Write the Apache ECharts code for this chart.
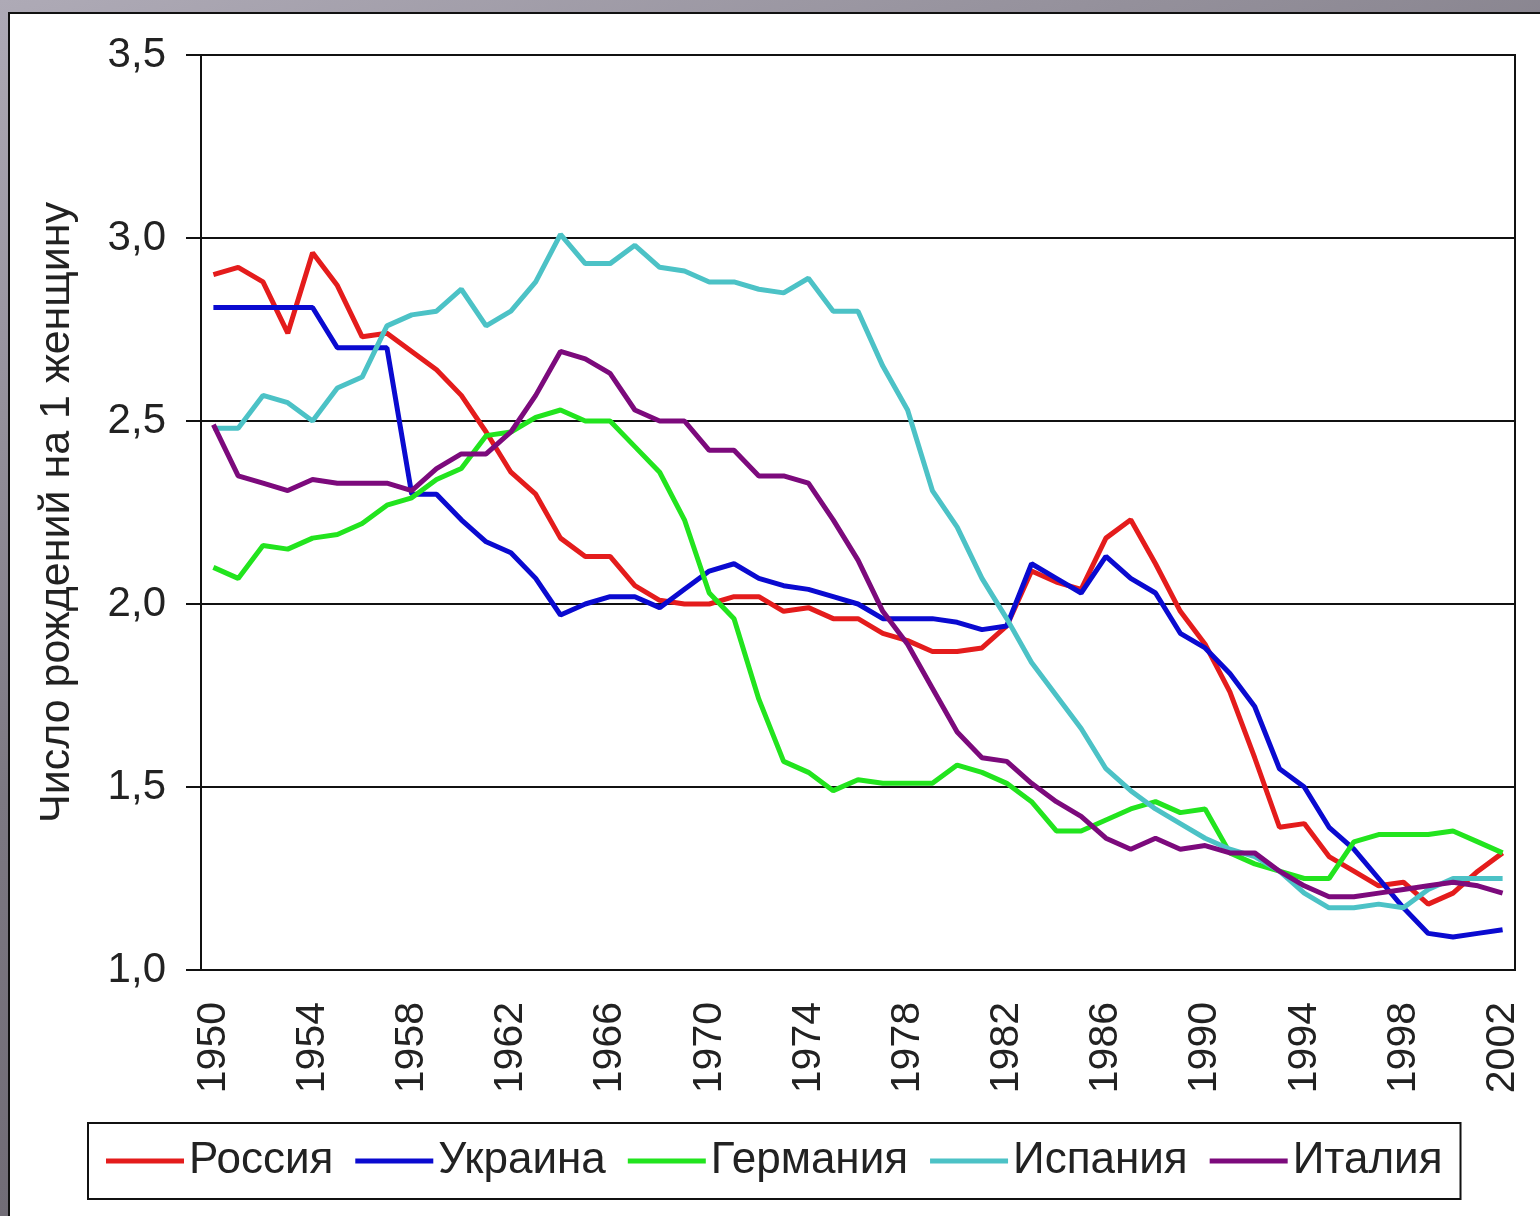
<!DOCTYPE html>
<html>
<head>
<meta charset="utf-8">
<script src="https://cdn.jsdelivr.net/npm/echarts@6/dist/echarts.min.js"></script>
<style>
  html, body { margin: 0; padding: 0; }
  body {
    width: 1540px; height: 1216px; overflow: hidden;
    background: linear-gradient(160deg, #aeaab6 0%, #7c7882 45%, #625c66 100%);
  }
  #panel {
    position: absolute; left: 8px; top: 12px; right: 0; bottom: 0;
    background: #fff;
    border-top: 2px solid #111; border-left: 2px solid #111;
  }
  #chart { position: absolute; left: 0; top: 0; width: 1540px; height: 1216px; }
</style>
</head>
<body>
<div id="panel"></div>
<div id="chart"></div>
<script>
// годы 1950..2002
const years = [];
for (let y = 1950; y <= 2002; y++) years.push(String(y));

const russia = [2.90, 2.92, 2.88, 2.74, 2.96, 2.87, 2.73, 2.74, 2.69, 2.64,
  2.57, 2.47, 2.36, 2.30, 2.18, 2.13, 2.13, 2.05, 2.01, 2.00,
  2.00, 2.02, 2.02, 1.98, 1.99, 1.96, 1.96, 1.92, 1.90, 1.87,
  1.87, 1.88, 1.94, 2.09, 2.06, 2.04, 2.18, 2.23, 2.11, 1.98,
  1.89, 1.76, 1.58, 1.39, 1.40, 1.31, 1.27, 1.23, 1.24, 1.18,
  1.21, 1.27, 1.32];
const ukraine = [2.81, 2.81, 2.81, 2.81, 2.81, 2.70, 2.70, 2.70, 2.30, 2.30,
  2.23, 2.17, 2.14, 2.07, 1.97, 2.00, 2.02, 2.02, 1.99, 2.04,
  2.09, 2.11, 2.07, 2.05, 2.04, 2.02, 2.00, 1.96, 1.96, 1.96,
  1.95, 1.93, 1.94, 2.11, 2.07, 2.03, 2.13, 2.07, 2.03, 1.92,
  1.88, 1.81, 1.72, 1.55, 1.50, 1.39, 1.33, 1.25, 1.17, 1.10,
  1.09, 1.10, 1.11];
const germany = [2.10, 2.07, 2.16, 2.15, 2.18, 2.19, 2.22, 2.27, 2.29, 2.34,
  2.37, 2.46, 2.47, 2.51, 2.53, 2.50, 2.50, 2.43, 2.36, 2.23,
  2.03, 1.96, 1.74, 1.57, 1.54, 1.49, 1.52, 1.51, 1.51, 1.51,
  1.56, 1.54, 1.51, 1.46, 1.38, 1.38, 1.41, 1.44, 1.46, 1.43,
  1.44, 1.32, 1.29, 1.27, 1.25, 1.25, 1.35, 1.37, 1.37, 1.37,
  1.38, 1.35, 1.32];
const spain = [2.48, 2.48, 2.57, 2.55, 2.50, 2.59, 2.62, 2.76, 2.79, 2.80,
  2.86, 2.76, 2.80, 2.88, 3.01, 2.93, 2.93, 2.98, 2.92, 2.91,
  2.88, 2.88, 2.86, 2.85, 2.89, 2.80, 2.80, 2.65, 2.53, 2.31,
  2.21, 2.07, 1.96, 1.84, 1.75, 1.66, 1.55, 1.49, 1.44, 1.40,
  1.36, 1.33, 1.31, 1.27, 1.21, 1.17, 1.17, 1.18, 1.17, 1.22,
  1.25, 1.25, 1.25];
const italy = [2.49, 2.35, 2.33, 2.31, 2.34, 2.33, 2.33, 2.33, 2.31, 2.37,
  2.41, 2.41, 2.47, 2.57, 2.69, 2.67, 2.63, 2.53, 2.50, 2.50,
  2.42, 2.42, 2.35, 2.35, 2.33, 2.23, 2.12, 1.98, 1.89, 1.77,
  1.65, 1.58, 1.57, 1.51, 1.46, 1.42, 1.36, 1.33, 1.36, 1.33,
  1.34, 1.32, 1.32, 1.27, 1.23, 1.20, 1.20, 1.21, 1.22, 1.23,
  1.24, 1.23, 1.21];

const names = ['Россия', 'Украина', 'Германия', 'Испания', 'Италия'];
const colors = ['#e41c1c', '#0a0ad0', '#22e41e', '#4cc2c6', '#7c0a7c'];
const values = [russia, ukraine, germany, spain, italy];

const font = '"Liberation Sans", Arial, sans-serif';
const chart = echarts.init(document.getElementById('chart'));

chart.setOption({
  animation: false,
  textStyle: { fontFamily: font },
  grid: {
    left: 201, top: 55, right: 25, bottom: 246,
    show: true, borderColor: '#111', borderWidth: 2, backgroundColor: 'transparent'
  },
  legend: {
    left: 88, top: 1123,
    data: names,
    icon: 'rect',
    itemWidth: 78, itemHeight: 5, itemGap: 22,
    padding: [16, 18, 16, 18],
    borderColor: '#111', borderWidth: 2,
    textStyle: { fontSize: 44, color: '#222', fontFamily: font }
  },
  xAxis: {
    type: 'category',
    data: years,
    boundaryGap: true,
    axisLine: { lineStyle: { color: '#111', width: 2 } },
    axisTick: { interval: 0, length: 13, lineStyle: { color: '#111', width: 2 } },
    axisLabel: { interval: 3, rotate: 90, margin: 32, fontSize: 41, color: '#222' },
    splitLine: { show: false }
  },
  yAxis: {
    type: 'value',
    min: 1, max: 3.5, interval: 0.5,
    name: 'Число рождений на 1 женщину',
    nameLocation: 'middle',
    nameGap: 122,
    nameTextStyle: { fontSize: 43, color: '#222' },
    axisLine: { show: true, lineStyle: { color: '#111', width: 2 } },
    axisTick: { show: true, length: 15, lineStyle: { color: '#111', width: 2 } },
    axisLabel: {
      margin: 35, fontSize: 42, color: '#222',
      formatter: v => v.toFixed(1).replace('.', ',')
    },
    splitLine: { lineStyle: { color: '#111', width: 2 } }
  },
  series: names.map((n, i) => ({
    name: n,
    type: 'line',
    data: values[i],
    symbol: 'none',
    color: colors[i],
    lineStyle: { width: 5, color: colors[i] }
  }))
});
</script>
</body>
</html>
